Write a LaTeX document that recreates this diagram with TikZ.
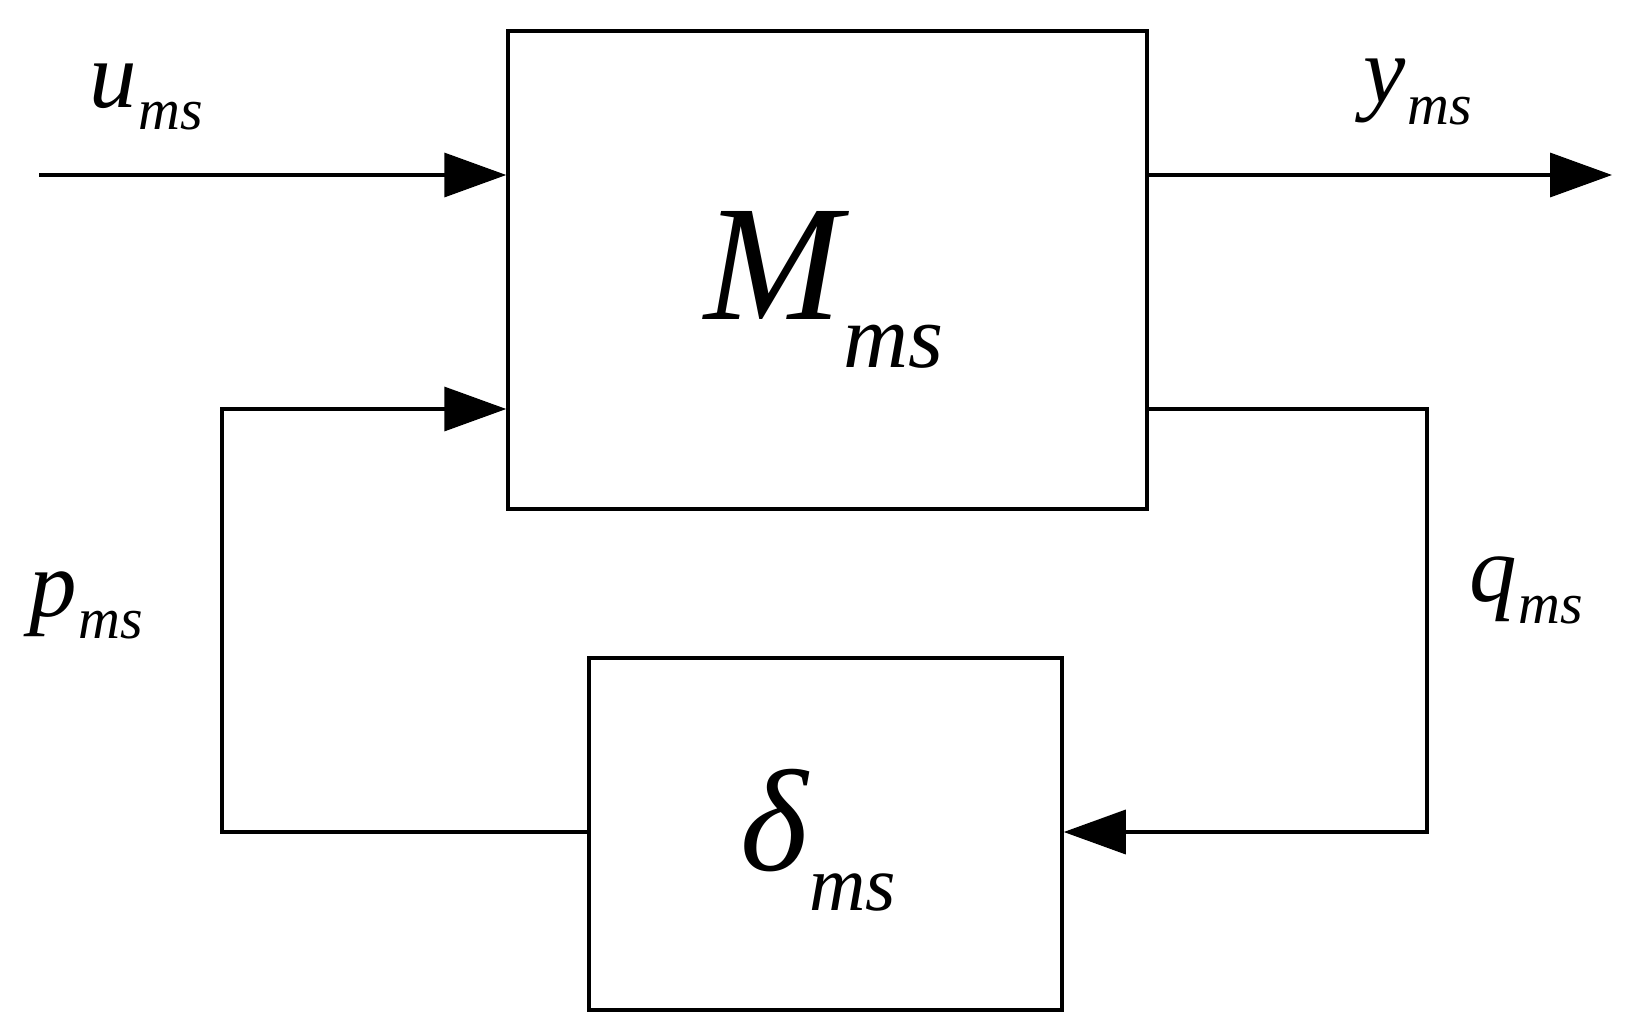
\documentclass[tikz,border=0pt]{standalone}
\usepackage{fontspec}
\setmainfont{Liberation Serif}
\usetikzlibrary{arrows.meta}
\newcommand{\lbl}[4]{{\fontsize{#1}{#1}\selectfont\itshape #3}\,\raisebox{-#4}{\fontsize{#2}{#2}\selectfont\itshape ms}}
\begin{document}
\begin{tikzpicture}[x=1pt,y=-1pt,
  blk/.style={draw,line width=3.5pt,inner sep=0pt},
  ln/.style={line width=3.5pt},
  arr/.style={ln,-{Triangle[length=62pt,width=44pt]}},
  txt/.style={inner sep=0pt}]
\useasboundingbox (0,0) rectangle (1633,1033);
\node[blk,minimum width=639pt,minimum height=478pt] (M) at (827.5,270) {};
\node[blk,minimum width=473pt,minimum height=352pt] (D) at (825.5,834) {};
\coordinate (uin) at (39,175);
\coordinate (yout) at (1612,175);
\coordinate (pl) at (222,409);
\coordinate (pb) at (222,832);
\coordinate (qr) at (1427,409);
\coordinate (qb) at (1427,832);
\draw[arr] (uin) -- (uin -| M.west);
\draw[arr] (yout -| M.east) -- (yout);
\draw[arr] (D.west |- pb) -- (pb) -- (pl) -- (pl -| M.west);
\draw[arr] (qr -| M.east) -- (qr) -- (qb) -- (qb -| D.east);
\node[txt] (Ml) at (824,290) {\lbl{165pt}{90pt}{M}{48pt}};
\node[txt] (Dl) at (818,840) {\lbl{145pt}{78pt}{δ}{40pt}};
\node[txt] (ul) at (146,97) {\lbl{95pt}{58pt}{u}{22pt}};
\node[txt] (yl) at (1418,92) {\lbl{95pt}{58pt}{y}{22pt}};
\node[txt] (pll) at (86,605) {\lbl{95pt}{58pt}{p}{22pt}};
\node[txt] (ql) at (1526,590) {\lbl{95pt}{58pt}{q}{22pt}};
\end{tikzpicture}
\end{document}
